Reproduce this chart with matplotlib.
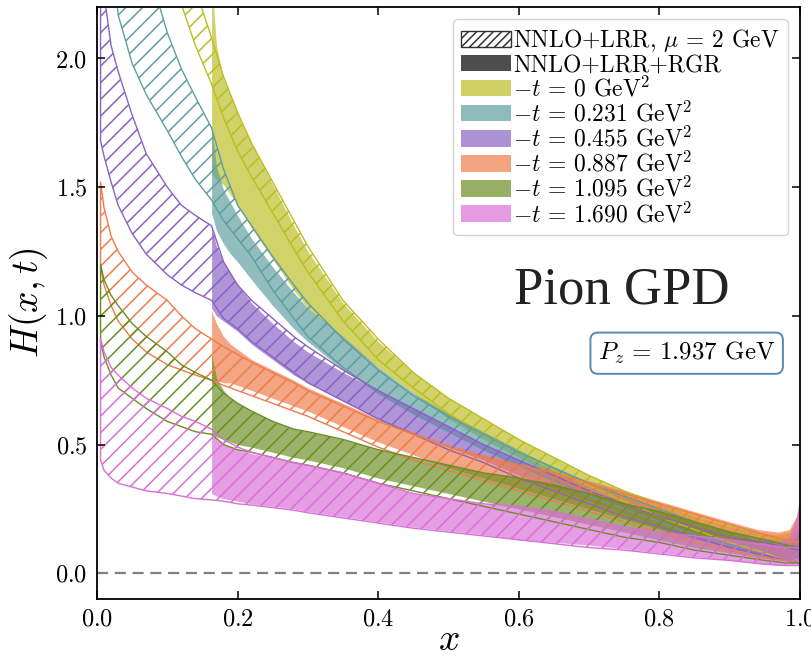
import matplotlib
matplotlib.use("Agg")
import matplotlib.pyplot as plt
from matplotlib.patches import Patch

plt.rcParams.update({
    "font.family": "serif",
    "font.serif": ["cmr10"],
    "mathtext.fontset": "cm",
    "axes.formatter.use_mathtext": True,
    "hatch.linewidth": 1.1,
})

# momentum-fraction grids
x_lrr = [0.005, 0.01, 0.02, 0.03, 0.05, 0.07, 0.1, 0.12, 0.14, 0.163, 0.18, 0.2, 0.22,
         0.25, 0.28, 0.3, 0.35, 0.4, 0.45, 0.5, 0.55, 0.6, 0.65, 0.7, 0.75, 0.8, 0.85,
         0.9, 0.95, 0.98, 1.0]
x_rgr = [0.163, 0.17, 0.18, 0.19, 0.2, 0.22, 0.25, 0.28, 0.3, 0.35, 0.4, 0.45, 0.5,
         0.55, 0.6, 0.65, 0.7, 0.75, 0.8, 0.85, 0.9, 0.94, 0.97, 0.985, 0.995, 1.0]

t_labels = ["0", "0.231", "0.455", "0.887", "1.095", "1.690"]
colors = ["#bcbd22", "#5f9ea0", "#8a62c4", "#f07c4a", "#6b8e23", "#da70d6"]

# NNLO+LRR, mu = 2 GeV (hatched bands)
lrr_t0_lo = [7.0, 5.8, 4.7, 4.1, 3.3, 2.85, 2.40, 2.21, 2.05, 1.90, 1.77, 1.64, 1.54, 1.40, 1.26,
             1.17, 0.98, 0.83, 0.72, 0.62, 0.54, 0.47, 0.40, 0.34, 0.28, 0.22, 0.17, 0.12, 0.08,
             0.05, 0.04]
lrr_t0_hi = [7.5, 6.2, 5.0, 4.4, 3.6, 3.1, 2.65, 2.42, 2.27, 2.08, 1.93, 1.79, 1.67, 1.52, 1.37,
             1.27, 1.06, 0.91, 0.78, 0.68, 0.60, 0.52, 0.45, 0.38, 0.32, 0.27, 0.22, 0.18, 0.15,
             0.13, 0.12]
lrr_t1_lo = [3.5, 3.0, 2.45, 2.17, 1.98, 1.86, 1.72, 1.62, 1.53, 1.45, 1.37, 1.30, 1.23, 1.10, 0.99,
             0.92, 0.80, 0.70, 0.62, 0.55, 0.48, 0.42, 0.36, 0.30, 0.25, 0.20, 0.15, 0.11, 0.07,
             0.05, 0.04]
lrr_t1_hi = [6.0, 5.0, 4.0, 3.4, 2.75, 2.38, 2.10, 1.96, 1.85, 1.73, 1.57, 1.43, 1.35, 1.23, 1.12,
             1.05, 0.91, 0.79, 0.69, 0.61, 0.54, 0.47, 0.41, 0.35, 0.30, 0.25, 0.20, 0.16, 0.13,
             0.11, 0.10]
lrr_t2_lo = [1.68, 1.62, 1.52, 1.43, 1.32, 1.24, 1.16, 1.12, 1.09, 1.06, 0.99, 0.95, 0.90, 0.84,
             0.78, 0.74, 0.67, 0.60, 0.54, 0.48, 0.43, 0.37, 0.32, 0.27, 0.22, 0.18, 0.14, 0.10,
             0.07, 0.05, 0.04]
lrr_t2_hi = [2.60, 2.25, 2.05, 1.95, 1.78, 1.63, 1.50, 1.43, 1.39, 1.35, 1.21, 1.12, 1.06, 0.99,
             0.92, 0.88, 0.79, 0.71, 0.64, 0.57, 0.50, 0.44, 0.38, 0.32, 0.27, 0.22, 0.18, 0.14,
             0.12, 0.10, 0.09]
lrr_t3_lo = [1.19, 1.12, 1.04, 0.98, 0.91, 0.86, 0.81, 0.79, 0.77, 0.75, 0.73, 0.71, 0.69, 0.66,
             0.63, 0.61, 0.55, 0.49, 0.44, 0.40, 0.36, 0.32, 0.28, 0.24, 0.20, 0.16, 0.12, 0.09,
             0.06, 0.05, 0.04]
lrr_t3_hi = [1.52, 1.42, 1.31, 1.25, 1.17, 1.12, 1.06, 1.00, 0.95, 0.91, 0.88, 0.85, 0.82, 0.78,
             0.74, 0.71, 0.65, 0.59, 0.54, 0.49, 0.45, 0.42, 0.39, 0.35, 0.31, 0.27, 0.23, 0.19,
             0.15, 0.13, 0.12]
lrr_t4_lo = [0.90, 0.84, 0.77, 0.72, 0.68, 0.64, 0.59, 0.57, 0.55, 0.54, 0.50, 0.48, 0.47, 0.45,
             0.43, 0.42, 0.39, 0.35, 0.32, 0.29, 0.26, 0.23, 0.20, 0.17, 0.14, 0.12, 0.09, 0.07,
             0.05, 0.04, 0.04]
lrr_t4_hi = [1.20, 1.14, 1.08, 1.04, 0.97, 0.92, 0.86, 0.81, 0.78, 0.75, 0.70, 0.66, 0.63, 0.59,
             0.56, 0.55, 0.52, 0.48, 0.45, 0.42, 0.39, 0.37, 0.34, 0.31, 0.27, 0.24, 0.20, 0.16,
             0.13, 0.11, 0.10]
lrr_t5_lo = [0.44, 0.40, 0.37, 0.35, 0.335, 0.32, 0.31, 0.30, 0.29, 0.285, 0.28, 0.27, 0.265, 0.255,
             0.245, 0.235, 0.215, 0.195, 0.175, 0.16, 0.145, 0.13, 0.115, 0.10, 0.09, 0.075, 0.06,
             0.05, 0.035, 0.03, 0.03]
lrr_t5_hi = [0.91, 0.86, 0.80, 0.77, 0.72, 0.68, 0.64, 0.61, 0.59, 0.56, 0.52, 0.49, 0.47, 0.45,
             0.43, 0.42, 0.39, 0.35, 0.31, 0.29, 0.27, 0.26, 0.24, 0.21, 0.18, 0.16, 0.145, 0.13,
             0.11, 0.10, 0.10]

# NNLO+LRR+RGR (filled bands)
rgr_t0_lo = [1.55, 1.53, 1.51, 1.47, 1.43, 1.34, 1.22, 1.10, 1.03, 0.91, 0.80, 0.70, 0.60, 0.52,
             0.45, 0.38, 0.32, 0.26, 0.21, 0.16, 0.12, 0.09, 0.07, 0.06, 0.06, 0.06]
rgr_t0_hi = [2.30, 2.05, 1.92, 1.86, 1.79, 1.67, 1.51, 1.35, 1.25, 1.05, 0.90, 0.78, 0.68, 0.60,
             0.52, 0.45, 0.38, 0.32, 0.27, 0.22, 0.18, 0.16, 0.15, 0.16, 0.20, 0.24]
rgr_t1_lo = [1.40, 1.33, 1.28, 1.24, 1.21, 1.14, 1.04, 0.95, 0.90, 0.79, 0.70, 0.62, 0.55, 0.48,
             0.42, 0.36, 0.30, 0.25, 0.20, 0.15, 0.11, 0.08, 0.07, 0.06, 0.06, 0.06]
rgr_t1_hi = [1.74, 1.58, 1.49, 1.44, 1.39, 1.30, 1.19, 1.09, 1.03, 0.92, 0.80, 0.70, 0.62, 0.55,
             0.48, 0.41, 0.35, 0.30, 0.25, 0.20, 0.16, 0.14, 0.13, 0.14, 0.17, 0.20]
rgr_t2_lo = [1.03, 1.00, 0.98, 0.96, 0.94, 0.89, 0.83, 0.77, 0.74, 0.67, 0.60, 0.54, 0.49, 0.44,
             0.38, 0.33, 0.28, 0.23, 0.18, 0.14, 0.10, 0.07, 0.06, 0.05, 0.05, 0.05]
rgr_t2_hi = [1.35, 1.27, 1.21, 1.16, 1.12, 1.05, 0.97, 0.90, 0.86, 0.78, 0.71, 0.64, 0.57, 0.50,
             0.44, 0.38, 0.32, 0.27, 0.22, 0.18, 0.14, 0.12, 0.11, 0.12, 0.15, 0.18]
rgr_t3_lo = [0.75, 0.75, 0.74, 0.74, 0.73, 0.71, 0.68, 0.65, 0.63, 0.57, 0.51, 0.46, 0.41, 0.37,
             0.33, 0.29, 0.25, 0.21, 0.17, 0.13, 0.10, 0.08, 0.07, 0.07, 0.08, 0.10]
rgr_t3_hi = [1.02, 0.97, 0.92, 0.89, 0.87, 0.83, 0.79, 0.75, 0.72, 0.66, 0.60, 0.55, 0.50, 0.46,
             0.43, 0.40, 0.36, 0.32, 0.28, 0.24, 0.20, 0.17, 0.16, 0.17, 0.22, 0.26]
rgr_t4_lo = [0.54, 0.53, 0.52, 0.51, 0.50, 0.49, 0.47, 0.45, 0.44, 0.41, 0.37, 0.34, 0.31, 0.28,
             0.25, 0.22, 0.19, 0.16, 0.13, 0.10, 0.08, 0.06, 0.05, 0.05, 0.06, 0.07]
rgr_t4_hi = [0.85, 0.76, 0.71, 0.68, 0.66, 0.63, 0.59, 0.56, 0.55, 0.52, 0.48, 0.45, 0.42, 0.39,
             0.37, 0.35, 0.31, 0.27, 0.24, 0.20, 0.16, 0.13, 0.12, 0.12, 0.14, 0.17]
rgr_t5_lo = [0.31, 0.30, 0.29, 0.285, 0.28, 0.27, 0.26, 0.25, 0.24, 0.22, 0.20, 0.18, 0.165, 0.15,
             0.13, 0.12, 0.11, 0.095, 0.08, 0.065, 0.05, 0.04, 0.03, 0.03, 0.03, 0.03]
rgr_t5_hi = [0.55, 0.52, 0.50, 0.49, 0.48, 0.465, 0.45, 0.43, 0.42, 0.39, 0.35, 0.31, 0.29, 0.27,
             0.26, 0.24, 0.21, 0.18, 0.16, 0.145, 0.13, 0.12, 0.12, 0.14, 0.22, 0.30]

lrr_bands = [(lrr_t0_lo, lrr_t0_hi), (lrr_t1_lo, lrr_t1_hi), (lrr_t2_lo, lrr_t2_hi),
             (lrr_t3_lo, lrr_t3_hi), (lrr_t4_lo, lrr_t4_hi), (lrr_t5_lo, lrr_t5_hi)]
rgr_bands = [(rgr_t0_lo, rgr_t0_hi), (rgr_t1_lo, rgr_t1_hi), (rgr_t2_lo, rgr_t2_hi),
             (rgr_t3_lo, rgr_t3_hi), (rgr_t4_lo, rgr_t4_hi), (rgr_t5_lo, rgr_t5_hi)]

fig = plt.figure(figsize=(8.12, 6.6), dpi=100)
ax = fig.add_axes([0.1195, 0.0924, 0.8655, 0.897])

for (lo, hi), c in zip(rgr_bands, colors):
    ax.fill_between(x_rgr, lo, hi, color=c, alpha=0.68, linewidth=0)

for (lo, hi), c in zip(lrr_bands, colors):
    ax.fill_between(x_lrr, lo, hi, facecolor="none", edgecolor=c, hatch="//", linewidth=1.0)

ax.axhline(0.0, color="#808080", linestyle=(0, (5, 3)), linewidth=1.6)

ax.set_xlim(0, 1)
ax.set_ylim(-0.1, 2.2)
ax.set_xticks([0.0, 0.2, 0.4, 0.6, 0.8, 1.0])
ax.set_yticks([0.0, 0.5, 1.0, 1.5, 2.0])
ax.tick_params(direction="in", top=True, right=True, length=6, width=1.1, labelsize=17.5, pad=7)
for s in ax.spines.values():
    s.set_linewidth(1.3)
ax.set_xlabel(r"$x$", fontsize=27, labelpad=-5)
ax.set_ylabel(r"$H(x,t)$", fontsize=27, labelpad=4)

handles = [
    Patch(facecolor="white", edgecolor="#333333", hatch="////", linewidth=1.0),
    Patch(facecolor="#3a3a3a", edgecolor="none", alpha=0.9),
] + [Patch(facecolor=c, alpha=0.7, edgecolor="none") for c in colors]
labels = [r"NNLO+LRR, $\mu\,=\,2$ GeV", "NNLO+LRR+RGR"] + \
         [r"$-t\,=\,%s$ GeV$^2$" % t for t in t_labels]
ax.legend(handles, labels, loc="upper right", fontsize=17, handlelength=2.1,
          handleheight=0.7, handletextpad=0.1, labelspacing=0.0, borderpad=0.35,
          borderaxespad=0.5, fancybox=True, framealpha=0.85)

ax.text(0.747, 1.10, "Pion GPD", fontsize=38, family="Liberation Serif",
        color="#222222", ha="center", va="center")
ax.text(0.839, 0.855, r"$P_z\,=\,1.937$ GeV", fontsize=18, ha="center", va="center",
        bbox=dict(boxstyle="round,pad=0.3", facecolor="white", edgecolor="#5b86b8",
                  linewidth=1.4))

fig.savefig("out.png", dpi=100, facecolor="white")
